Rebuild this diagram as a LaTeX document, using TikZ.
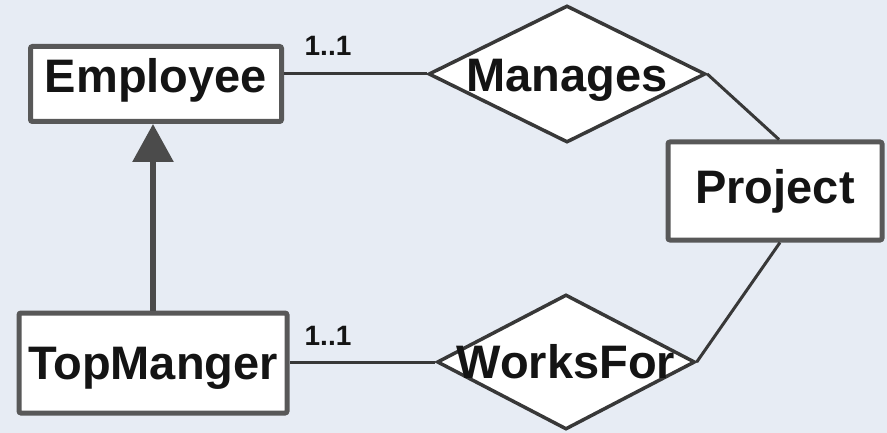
\documentclass[tikz,border=0pt]{standalone}
\usepackage{fontspec}
\setmainfont{Liberation Sans}
\usepackage{tikz}
\usepackage{xcolor}
\usetikzlibrary{shapes.geometric,arrows.meta}
\definecolor{bgblue}{HTML}{E7ECF4}
\definecolor{boxgray}{HTML}{585858}
\definecolor{linedark}{HTML}{383838}
\definecolor{inkblack}{HTML}{141414}

\begin{document}
\begin{tikzpicture}[x=1pt, y=-1pt,
		entity/.style={draw=boxgray, line width=5pt, fill=white, rounded corners=2pt, inner sep=0pt,
			text=inkblack, font=\fontsize{47}{50}\selectfont\bfseries},
		relation/.style={diamond, draw=linedark, line width=3.5pt, fill=white, inner sep=0pt},
		rellabel/.style={text=inkblack, font=\fontsize{47}{50}\selectfont\bfseries},
		card/.style={text=inkblack, font=\fontsize{28}{30}\selectfont\bfseries},
		link/.style={draw=linedark, line width=3pt}]
		\fill[bgblue] (0, 0) rectangle (887, 433);
		\useasboundingbox (0, 0) rectangle (887, 433);
		% entities
		\node[entity, minimum width=251pt, minimum height=75pt, text depth=17pt] (employee) at (156, 84) {Employee};
		\node[entity, minimum width=268pt, minimum height=100pt, text depth=0pt] (topmgr) at (153, 363) {TopManger};
		\node[entity, minimum width=214pt, minimum height=98pt] (project) at (775, 191) {Project};
		% relationships
		\node[relation, minimum width=277pt, minimum height=137pt] (manages) at (567, 74) {};
		\node[rellabel] (manageslbl) at ([yshift=-6pt]manages) {Manages};
		\node[relation, minimum width=258pt, minimum height=135pt] (worksfor) at (566, 362) {};
		\node[rellabel] (worksforlbl) at (worksfor) {WorksFor};
		% connectors
		\draw[link] (manages.west) -- (manages.west -| employee.east);
		\draw[link] (worksfor.west) -- (worksfor.west -| topmgr.east);
		\draw[link] (manages.east) -- ([xshift=4pt]project.north);
		\draw[link] (worksfor.east) -- ([xshift=5pt]project.south);
		\draw[boxgray!85!black, line width=6pt, -{Triangle[width=40pt, length=38pt]}]
			(topmgr.north) -- (topmgr.north |- employee.south);
		% cardinalities
		\node[card] (cardman) at (328, 46) {1..1};
		\node[card] (cardwork) at (328, 336) {1..1};
	\end{tikzpicture}
\end{document}
